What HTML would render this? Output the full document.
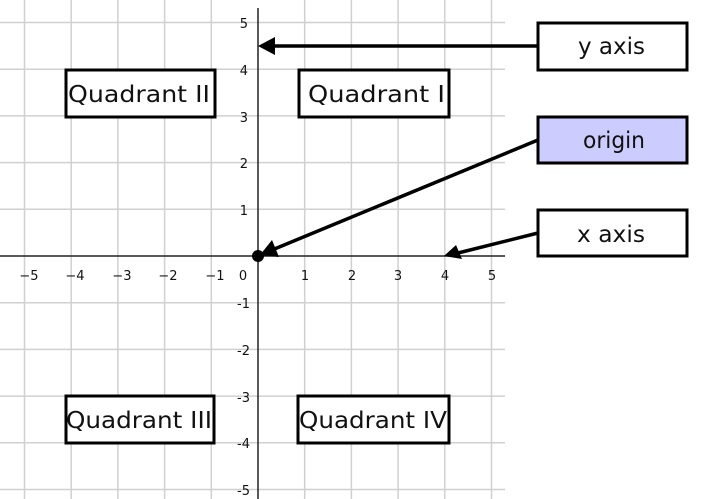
<!DOCTYPE html>
<html><head><meta charset="utf-8"><style>
html,body{margin:0;padding:0;background:#fff;}
svg{display:block;}
text{font-family:"DejaVu Sans","Liberation Sans",sans-serif;}
</style></head><body>
<svg width="708" height="499" viewBox="0 0 708 499" xmlns="http://www.w3.org/2000/svg">
<g stroke="#d0d0d0" stroke-width="1.5">
<line x1="24.5" y1="0" x2="24.5" y2="499"/><line x1="71.2" y1="0" x2="71.2" y2="499"/>
<line x1="117.9" y1="0" x2="117.9" y2="499"/><line x1="164.6" y1="0" x2="164.6" y2="499"/>
<line x1="211.3" y1="0" x2="211.3" y2="499"/><line x1="304.7" y1="0" x2="304.7" y2="499"/>
<line x1="351.4" y1="0" x2="351.4" y2="499"/><line x1="398.1" y1="0" x2="398.1" y2="499"/>
<line x1="444.8" y1="0" x2="444.8" y2="499"/><line x1="491.5" y1="0" x2="491.5" y2="499"/>
<line x1="0" y1="22.5" x2="505" y2="22.5"/><line x1="0" y1="69.2" x2="505" y2="69.2"/>
<line x1="0" y1="115.9" x2="505" y2="115.9"/><line x1="0" y1="162.6" x2="505" y2="162.6"/>
<line x1="0" y1="209.3" x2="505" y2="209.3"/><line x1="0" y1="302.7" x2="505" y2="302.7"/>
<line x1="0" y1="349.4" x2="505" y2="349.4"/><line x1="0" y1="396.1" x2="505" y2="396.1"/>
<line x1="0" y1="442.8" x2="505" y2="442.8"/><line x1="0" y1="489.5" x2="505" y2="489.5"/>
</g>
<line x1="0" y1="256" x2="505" y2="256" stroke="#222" stroke-width="1.5"/>
<line x1="258" y1="8" x2="258" y2="499" stroke="#222" stroke-width="1.5"/>
<g font-size="13" fill="#111" text-anchor="middle">
<text x="29" y="280">−5</text><text x="75" y="280">−4</text><text x="122" y="280">−3</text>
<text x="168" y="280">−2</text><text x="215" y="280">−1</text><text x="243" y="280">0</text>
<text x="305" y="280">1</text><text x="352" y="280">2</text><text x="398" y="280">3</text>
<text x="445" y="280">4</text><text x="492" y="280">5</text>
</g>
<g font-size="13" fill="#111" text-anchor="end">
<text x="248" y="28">5</text><text x="248" y="75">4</text><text x="248" y="122">3</text>
<text x="248" y="168">2</text><text x="248" y="215">1</text><text x="250" y="308">-1</text>
<text x="250" y="355">-2</text><text x="250" y="402">-3</text><text x="250" y="448">-4</text>
<text x="250" y="495">-5</text>
</g>
<g fill="#fff" stroke="#000" stroke-width="3">
<rect x="66" y="70" width="149" height="47"/>
<rect x="299" y="70" width="150" height="47"/>
<rect x="66" y="396" width="148" height="47"/>
<rect x="298" y="396" width="151" height="47"/>
<rect x="538" y="23" width="149" height="47"/>
<rect x="538" y="117" width="149" height="46" fill="#ccccff"/>
<rect x="538" y="210" width="149" height="46"/>
</g>
<g font-size="23" fill="#111">
<text x="68" y="102" textLength="142" lengthAdjust="spacingAndGlyphs">Quadrant II</text>
<text x="308" y="102" textLength="137" lengthAdjust="spacingAndGlyphs">Quadrant I</text>
<text x="66" y="428" textLength="146" lengthAdjust="spacingAndGlyphs">Quadrant III</text>
<text x="299" y="428" textLength="148" lengthAdjust="spacingAndGlyphs">Quadrant IV</text>
<text x="578" y="54" textLength="67" lengthAdjust="spacingAndGlyphs">y axis</text>
<text x="583" y="148" textLength="62" lengthAdjust="spacingAndGlyphs">origin</text>
<text x="577" y="242" textLength="68" lengthAdjust="spacingAndGlyphs">x axis</text>
</g>
<g stroke="#000" stroke-width="3.5">
<line x1="538" y1="46" x2="272" y2="46"/>
<line x1="538" y1="140" x2="272" y2="250"/>
<line x1="538" y1="233" x2="458" y2="253"/>
</g>
<polygon points="258,46 275,37 275,55" fill="#000"/>
<polygon points="260,255 272,240 279,257" fill="#000"/>
<polygon points="444,256 456,245 462,259" fill="#000"/>
<circle cx="258" cy="256" r="6" fill="#000"/>
</svg>
</body></html>
